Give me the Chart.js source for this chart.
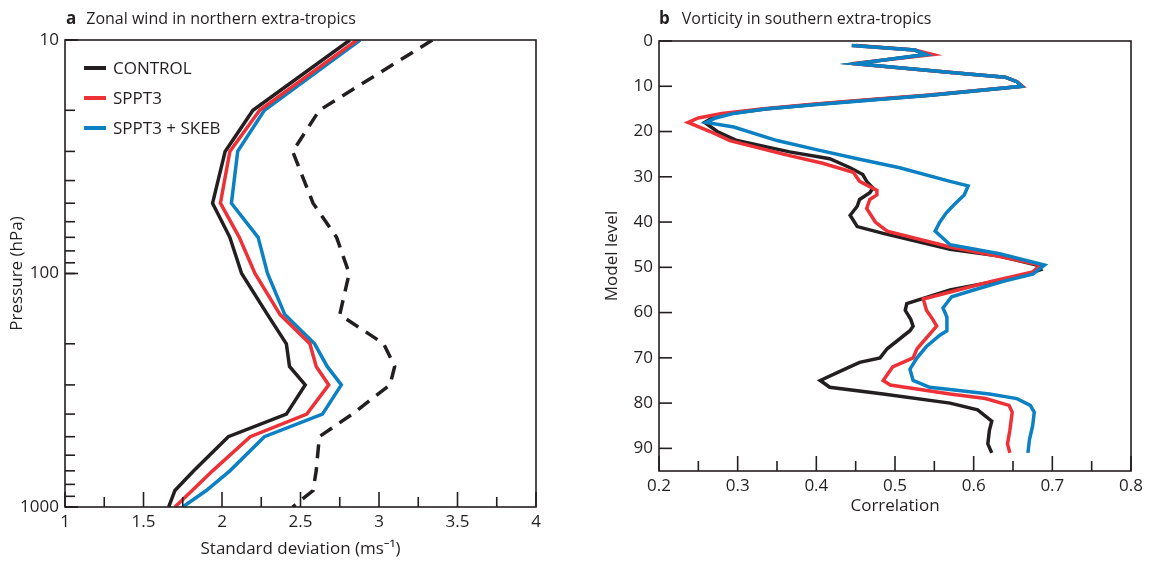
<!DOCTYPE html>
<html><head><meta charset="utf-8">
<script src="https://cdn.jsdelivr.net/npm/chart.js@4/dist/chart.umd.min.js"></script>
<style>
html,body{margin:0;padding:0;background:#fff;}
#wrap{position:relative;width:1153px;height:561px;overflow:hidden;}
#c1{position:absolute;left:0;top:0;width:580px;height:561px;}
#c2{position:absolute;left:580px;top:0;width:573px;height:561px;}
</style></head><body>
<div id="wrap"><canvas id="c1" width="580" height="561"></canvas><canvas id="c2" width="573" height="561"></canvas></div>
<script>
// ---------- Panel a: zonal wind, northern extra-tropics ----------
const pressureLevels = [10, 20, 30, 50, 70, 100, 150, 200, 250, 300, 400, 500, 700, 850, 1000];
const windControl = [2.815, 2.197, 2.02, 1.94, 2.05, 2.125, 2.29, 2.41, 2.43, 2.53, 2.41, 2.04, 1.82, 1.70, 1.66];
const windSPPT3   = [2.86, 2.24, 2.05, 1.99, 2.11, 2.21, 2.37, 2.56, 2.60, 2.68, 2.54, 2.18, 1.94, 1.81, 1.70];
const windSKEB    = [2.88, 2.27, 2.10, 2.06, 2.23, 2.29, 2.40, 2.59, 2.67, 2.76, 2.64, 2.27, 2.05, 1.90, 1.75];
const windDashed  = [3.34, 2.62, 2.45, 2.58, 2.73, 2.81, 2.75, 3.03, 3.10, 3.07, 2.83, 2.62, 2.60, 2.58, 2.45];

const windTicks = [1, 1.5, 2, 2.5, 3, 3.5, 4];
const windTickLabels = ['1', '1.5', '2', '2.5', '3', '3.5', '4'];
const windMinorTicks = [1.25, 1.75, 2.25, 2.75, 3.25, 3.75];
const pressureTicks = [10, 20, 30, 40, 50, 60, 70, 80, 90, 100, 200, 300, 400, 500, 600, 700, 800, 900, 1000];
const pressureTickLabels = [10, 100, 1000];

// ---------- Panel b: vorticity, southern extra-tropics ----------
const levelsControl = [1,2,3,5,7,8,9,10,12,13,14,15,16,17,18,20,22,24.5,26,28,29.5,31,32.5,33.5,35,36.5,38.5,41,42.5,46,47.5,49.5,50.5,52,55,58,59.5,61.5,63,64,68,70,71,73,75,76.5,78,80,81.5,84,86,89,91];
const corrControl   = [0.450,0.525,0.540,0.450,0.575,0.640,0.655,0.661,0.545,0.470,0.400,0.335,0.290,0.268,0.258,0.274,0.299,0.366,0.417,0.443,0.459,0.464,0.472,0.468,0.455,0.452,0.443,0.452,0.485,0.570,0.633,0.680,0.685,0.660,0.570,0.515,0.513,0.520,0.523,0.519,0.490,0.481,0.455,0.430,0.405,0.417,0.485,0.570,0.605,0.623,0.620,0.618,0.623];
const levelsSPPT3 = [1,2,3,5,7,8,9,10,12,13,14,15,16,17,18,20,22,25,27,29,31,33,34,35,37,40,42,45.5,47.5,49.5,51,53,55,57,59.5,61.5,63,64,68,70,72,75,76,78,79,80.5,82,86,89,91];
const corrSPPT3   = [0.445,0.525,0.548,0.445,0.575,0.640,0.655,0.662,0.540,0.465,0.395,0.330,0.280,0.250,0.237,0.265,0.290,0.358,0.408,0.447,0.455,0.477,0.477,0.468,0.464,0.475,0.490,0.570,0.630,0.685,0.675,0.625,0.580,0.536,0.540,0.548,0.553,0.548,0.528,0.523,0.497,0.485,0.494,0.570,0.615,0.645,0.649,0.646,0.643,0.646];
const levelsSKEB = [1,2,3,5,7,8,9,10,12,13,14,15,16,17,18,19,22,24,26,28,31,32,34,36,38,40,42,45,47,49.5,51.5,53,55,56.5,59,61,64,65,67.5,70,72.5,75,76.5,77,78,79,80.5,82,85,88,91];
const corrSKEB   = [0.445,0.525,0.540,0.450,0.575,0.640,0.655,0.661,0.545,0.475,0.405,0.335,0.295,0.272,0.260,0.295,0.350,0.400,0.452,0.506,0.570,0.593,0.588,0.576,0.565,0.557,0.551,0.570,0.633,0.690,0.675,0.640,0.600,0.572,0.561,0.566,0.566,0.557,0.540,0.528,0.519,0.523,0.544,0.570,0.620,0.655,0.672,0.677,0.675,0.671,0.669];

const corrTicks = [0.2, 0.3, 0.4, 0.5, 0.6, 0.7, 0.8];
const corrTickLabels = ['0.2', '0.3', '0.4', '0.5', '0.6', '0.7', '0.8'];
const corrMinorTicks = [0.25, 0.35, 0.45, 0.55, 0.65, 0.75];
const levelTicks = [0, 10, 20, 30, 40, 50, 60, 70, 80, 90];

const seriesNames = ['CONTROL', 'SPPT3', 'SPPT3 + SKEB'];
const INK = '#231f20', RED = '#ec3237', BLUE = '#0b80c3';
const seriesColors = [INK, RED, BLUE];
const FONT = "'Open Sans', 'Noto Sans', sans-serif";

Chart.defaults.font.family = FONT;
Chart.defaults.font.size = 17;
Chart.defaults.color = INK;

const framePlugin = {
  id: 'frame',
  afterDraw(chart, args, o) {
    const ctx = chart.ctx, a = chart.chartArea, xs = chart.scales.x, ys = chart.scales.y;
    ctx.save();
    ctx.strokeStyle = INK; ctx.lineWidth = 1.6; ctx.lineCap = 'butt';
    ctx.strokeRect(a.left, a.top, a.right - a.left, a.bottom - a.top);
    const seg = (x1, y1, x2, y2) => { ctx.beginPath(); ctx.moveTo(x1, y1); ctx.lineTo(x2, y2); ctx.stroke(); };
    o.xMajor.forEach(v => { const p = xs.getPixelForValue(v); seg(p, a.bottom, p, a.bottom - o.xMajorLen); });
    o.xMinor.forEach(v => { const p = xs.getPixelForValue(v); seg(p, a.bottom, p, a.bottom - o.xMinorLen); });
    o.yMajor.forEach(v => { const p = ys.getPixelForValue(v); seg(a.left, p, a.left + o.yMajorLen, p); });
    o.yMinor.forEach(v => { const p = ys.getPixelForValue(v); seg(a.left, p, a.left + o.yMinorLen, p); });
    // panel title
    ctx.fillStyle = INK; ctx.textAlign = 'left'; ctx.textBaseline = 'alphabetic';
    ctx.font = 'bold 17px ' + FONT;
    ctx.fillText(o.letter, o.titleX, o.titleY);
    const w = ctx.measureText(o.letter).width;
    ctx.font = '16px ' + FONT;
    ctx.fillText(o.title, o.titleX + w + o.titleGap, o.titleY);
    // legend
    if (o.legend) {
      ctx.textBaseline = 'middle';
      ctx.font = '17px ' + FONT;
      seriesNames.forEach((name, i) => {
        const y = o.legendY0 + i * o.legendDy;
        ctx.strokeStyle = seriesColors[i]; ctx.lineWidth = 4;
        seg(o.legendX0, y, o.legendX1, y);
        ctx.fillStyle = INK;
        ctx.fillText(name, o.legendTextX, y + 1);
      });
    }
    ctx.restore();
  }
};

function lineDs(label, xs, ys, color, order, dash) {
  return {
    label: label,
    data: xs.map((x, i) => ({ x: x, y: ys[i] })),
    borderColor: color, backgroundColor: color,
    borderWidth: 3.5, borderDash: dash || [],
    showLine: true, pointRadius: 0, pointHoverRadius: 0,
    tension: 0, fill: false, order: order
  };
}

// Panel a
new Chart(document.getElementById('c1'), {
  type: 'scatter',
  data: {
    datasets: [
      lineDs('CONTROL', windControl, pressureLevels, INK, 0),
      lineDs('SPPT3', windSPPT3, pressureLevels, RED, 1),
      lineDs('SPPT3 + SKEB', windSKEB, pressureLevels, BLUE, 2),
      lineDs('Dashed reference', windDashed, pressureLevels, INK, 3, [14, 9])
    ]
  },
  options: {
    responsive: false, animation: false, devicePixelRatio: 1,
    layout: { padding: { top: 40, right: 44, bottom: 0, left: 0 } },
    plugins: {
      legend: { display: false }, tooltip: { enabled: false },
      frame: {
        xMajor: windTicks, xMinor: windMinorTicks, xMajorLen: 15, xMinorLen: 10,
        yMajor: pressureTickLabels, yMinor: pressureTicks, yMajorLen: 13, yMinorLen: 10,
        letter: 'a', title: 'Zonal wind in northern extra-tropics', titleX: 66, titleY: 24, titleGap: 10,
        legend: true, legendX0: 84, legendX1: 106, legendTextX: 113, legendY0: 68, legendDy: 30
      }
    },
    scales: {
      x: {
        type: 'linear', min: 1, max: 4,
        grid: { display: false, drawTicks: false }, border: { display: false },
        afterBuildTicks: s => { s.ticks = windTicks.map(v => ({ value: v })); },
        afterFit: s => { s.height = 54; },
        ticks: { padding: 5, autoSkip: false, maxRotation: 0,
          callback: v => { const i = windTicks.indexOf(v); return i >= 0 ? windTickLabels[i] : ''; } },
        title: { display: true, text: 'Standard deviation (ms⁻¹)', font: { size: 17 }, padding: { top: 0, bottom: 2 } }
      },
      y: {
        type: 'logarithmic', min: 10, max: 1000, reverse: true,
        grid: { display: false, drawTicks: false }, border: { display: false },
        afterBuildTicks: s => { s.ticks = pressureTicks.map(v => ({ value: v })); },
        afterFit: s => { s.width = 65; },
        ticks: { padding: 6, autoSkip: false,
          callback: v => pressureTickLabels.includes(v) ? String(v) : '' },
        title: { display: true, text: 'Pressure (hPa)', font: { size: 17 }, padding: { top: 7, bottom: 0 } }
      }
    }
  },
  plugins: [framePlugin]
});

// Panel b
new Chart(document.getElementById('c2'), {
  type: 'scatter',
  data: {
    datasets: [
      lineDs('CONTROL', corrControl, levelsControl, INK, 2),
      lineDs('SPPT3', corrSPPT3, levelsSPPT3, RED, 1),
      lineDs('SPPT3 + SKEB', corrSKEB, levelsSKEB, BLUE, 0)
    ]
  },
  options: {
    responsive: false, animation: false, devicePixelRatio: 1,
    layout: { padding: { top: 41, right: 22, bottom: 40, left: 0 } },
    plugins: {
      legend: { display: false }, tooltip: { enabled: false },
      frame: {
        xMajor: corrTicks, xMinor: corrMinorTicks, xMajorLen: 15, xMinorLen: 10,
        yMajor: levelTicks, yMinor: [], yMajorLen: 13, yMinorLen: 0,
        letter: 'b', title: 'Vorticity in southern extra-tropics', titleX: 79, titleY: 24, titleGap: 12,
        legend: false
      }
    },
    scales: {
      x: {
        type: 'linear', min: 0.2, max: 0.8,
        grid: { display: false, drawTicks: false }, border: { display: false },
        afterBuildTicks: s => { s.ticks = corrTicks.map(v => ({ value: v })); },
        afterFit: s => { s.height = 50; },
        ticks: { padding: 5, autoSkip: false, maxRotation: 0,
          callback: v => { const i = corrTicks.findIndex(t => Math.abs(t - v) < 1e-9); return i >= 0 ? corrTickLabels[i] : ''; } },
        title: { display: true, text: 'Correlation', font: { size: 17 }, padding: { top: 0, bottom: 5 } }
      },
      y: {
        type: 'linear', min: 0, max: 95, reverse: true,
        grid: { display: false, drawTicks: false }, border: { display: false },
        afterBuildTicks: s => { s.ticks = levelTicks.map(v => ({ value: v })); },
        afterFit: s => { s.width = 79; },
        ticks: { padding: 6, autoSkip: false, callback: v => String(v) },
        title: { display: true, text: 'Model level', font: { size: 17 }, padding: { top: 22, bottom: 0 } }
      }
    }
  },
  plugins: [framePlugin]
});
</script>
</body></html>
